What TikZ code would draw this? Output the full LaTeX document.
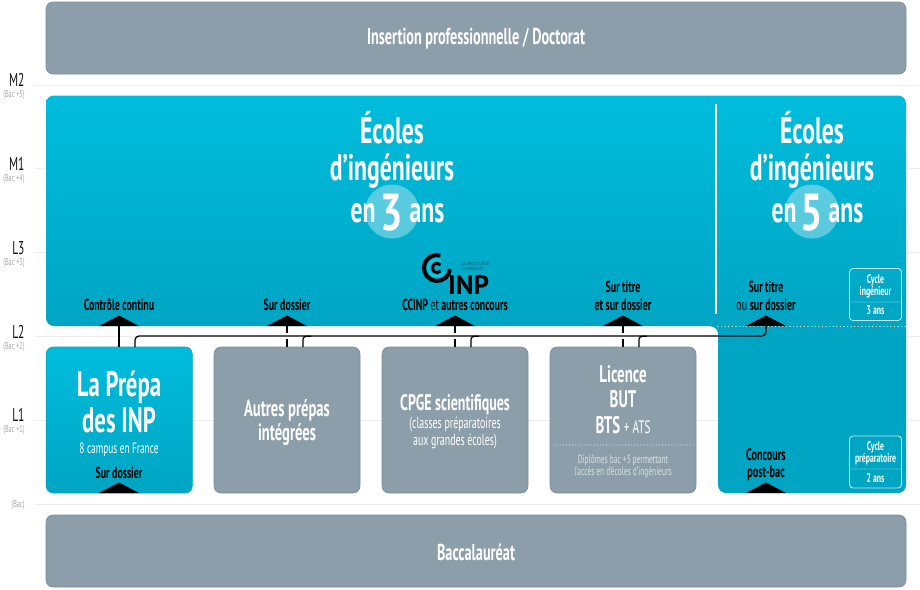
\documentclass[tikz,border=0pt]{standalone}
\usepackage{fontspec}
\setmainfont{Liberation Sans}
\newfontfamily\cf[FakeStretch=0.62]{PT Sans}
\newfontfamily\cfm[FakeStretch=0.64]{PT Sans}
\newfontfamily\cfn[FakeStretch=0.76]{PT Sans}
\newfontfamily\cfw{PT Sans}
\newcommand{\fsz}[1]{\fontsize{#1}{#1}\selectfont\cf}
\newcommand{\fsm}[1]{\fontsize{#1}{#1}\selectfont\cfm\bfseries}
\usetikzlibrary{calc}
\definecolor{cyT}{HTML}{00BCDC}
\definecolor{cyB}{HTML}{00A5C3}
\definecolor{cyL}{HTML}{16C3E2}
\definecolor{gr}{HTML}{8C9EA9}
\definecolor{grE}{HTML}{7C8F9B}
\definecolor{lg}{HTML}{EEEEEE}
\definecolor{lab}{HTML}{111111}
\definecolor{sub}{HTML}{A8A8A8}
\definecolor{pale}{HTML}{D9E1E6}
\definecolor{logoT}{HTML}{0A5A70}
\tikzset{
  x=1pt,y=-1pt,
  every node/.style={inner sep=0pt,outer sep=0pt,align=center},
  graybox/.style={fill=gr,draw=grE,line width=.6pt,rounded corners=7pt,minimum width=146pt,minimum height=146pt},
  widebox/.style={fill=gr,draw=grE,line width=.6pt,rounded corners=7pt,minimum width=860pt,minimum height=72pt},
  cyanbox/.style={top color=cyT,bottom color=cyB,draw=cyB,line width=.6pt,rounded corners=7pt,minimum width=146pt,minimum height=146pt},
  rule/.style={lg,line width=1pt},
  lvl/.style={anchor=base east,text=lab},
  bac/.style={anchor=east,text=sub},
  wtxt/.style={text=white},
  ktxt/.style={text=black},
  ptxt/.style={text=pale},
  conn/.style={black,line width=1.3pt},
  tri/.style={fill=black},
  cycle box/.style={draw=white!75!cyB,line width=.9pt,rounded corners=3.5pt,minimum width=52pt,minimum height=52pt},
  dots/.style={white,line width=1.2pt,line cap=round,dash pattern=on 0pt off 3.6pt},
  ttl/.style={text=white,anchor=base},
}
\begin{document}
\begin{tikzpicture}
\useasboundingbox (0,0) rectangle (920,589);
\fill[white] (0,0) rectangle (920,589);
% level rules
\foreach \yy in {85,168.5,252,336,420,504} \draw[rule] (35,\yy) -- (920,\yy);
% level labels
\node[lvl] (m2) at (24.5,86) {\fsz{18.5}M2};
\node[bac] (b5) at (24.5,95) {\fsz{10}(Bac +5)};
\node[lvl] (m1) at (24.5,170) {\fsz{18.5}M1};
\node[bac] (b4) at (24.5,179) {\fsz{10}(Bac +4)};
\node[lvl] (l3) at (24.5,254) {\fsz{18.5}L3};
\node[bac] (b3) at (24.5,263) {\fsz{10}(Bac +3)};
\node[lvl] (l2) at (24.5,338) {\fsz{18.5}L2};
\node[bac] (b2) at (24.5,347) {\fsz{10}(Bac +2)};
\node[lvl] (l1) at (24.5,421) {\fsz{18.5}L1};
\node[bac] (b1) at (24.5,430) {\fsz{10}(Bac +1)};
\node[bac] (b0) at (24.5,505) {\fsz{10}(Bac)};
% top and bottom
\node[widebox] (top) at (476,38) {};
\node[widebox] (base) at (476,551) {};
\node[wtxt] (toptxt) at (476,39) {\fsz{23}\bfseries Insertion professionnelle / Doctorat};
\node[wtxt] (basetxt) at (476,552) {\fsz{23}\bfseries Baccalauréat};
% main cyan shape
\begin{scope}
\clip[rounded corners=8pt] (46,95.5) -- (906,95.5) -- (906,493) -- (718,493) -- (718,326) -- (46,326) -- cycle;
\shade[top color=cyT,bottom color=cyB] (40,95) rectangle (912,326.5);
\fill[cyB] (710,326) rectangle (912,494);
\end{scope}
% divider and dotted line
\draw[white,line width=2.4pt] (716,104) -- (716,314);
\draw[dots] (718,326.5) -- (906,326.5);
% circles
\fill[white,opacity=.35] (392,211.5) circle[radius=27pt];
\fill[white,opacity=.35] (812,211.5) circle[radius=27pt];
% titles
\node[ttl] (t1a) at (392,143.5) {\fsm{37}Écoles};
\node[ttl] (t1b) at (392,180.5) {\fsm{37}d’ingénieurs};
\node[ttl] (t1c) at (363,222.5) {\fsm{37}en};
\node[ttl] (t1d) at (392,230) {\fontsize{52}{52}\selectfont\cfn\bfseries 3};
\node[ttl] (t1e) at (427,222.5) {\fsm{37}ans};
\node[ttl] (t2a) at (812,143.5) {\fsm{37}Écoles};
\node[ttl] (t2b) at (812,180.5) {\fsm{37}d’ingénieurs};
\node[ttl] (t2c) at (784,222.5) {\fsm{37}en};
\node[ttl] (t2d) at (812,230) {\fontsize{52}{52}\selectfont\cfn\bfseries 5};
\node[ttl] (t2e) at (846,222.5) {\fsm{37}ans};
% logo
\draw[black,line width=4pt] (437,268) ++(-5:13pt) arc[start angle=-5,end angle=-285,radius=13pt];
\draw[cyL,line width=2.6pt] (437,268) ++(-25:8.4pt) arc[start angle=-25,end angle=-300,radius=8.4pt];
\draw[black,line width=2.8pt] (437,268) ++(-40:4.6pt) arc[start angle=-40,end angle=-320,radius=4.6pt];
\node[anchor=base,text=black] (logoinp) at (468.5,294) {\fontsize{27}{27}\selectfont\cfw\bfseries INP};
\node[anchor=west,text=logoT] (logot1) at (461,264) {\fontsize{4.8}{4.8}\selectfont CONCOURS};
\node[anchor=west,text=logoT] (logot2) at (461,269) {\fontsize{4.8}{4.8}\selectfont COMMUN};
% boxes
\node[cyanbox] (prepa) at (119.25,420) {};
\node[graybox] (autres) at (287,420) {};
\node[graybox] (cpge) at (455,420) {};
\node[graybox] (lic) at (623,420) {};
% box texts
\node[wtxt] (p1) at (119,387) {\fsm{35.5}La Prépa};
\node[wtxt] (p2) at (119,420) {\fsm{35.5}des INP};
\node[wtxt] (p3) at (119,449.5) {\fsz{15}8 campus en France};
\node[ktxt] (p4) at (119,473) {\fsz{16}\bfseries Sur dossier};
\node[wtxt] (a1) at (287,410) {\fsz{23.5}\bfseries Autres prépas};
\node[wtxt] (a2) at (287,435) {\fsz{23.5}\bfseries intégrées};
\node[wtxt] (c1) at (455,405) {\fsz{22.5}\bfseries CPGE scientifiques};
\node[wtxt] (c2) at (455,424) {\fsz{16}(classes préparatoires};
\node[wtxt] (c3) at (455,441) {\fsz{16}aux grandes écoles)};
\node[wtxt] (l1a) at (623,374) {\fsz{24}\bfseries Licence};
\node[wtxt] (l1b) at (623,399) {\fsz{24}\bfseries BUT};
\node[wtxt] (l1c) at (623,425) {\fsz{24}\bfseries BTS {\mdseries\fsz{18}+ ATS}};
\draw[dots,line width=1pt,dash pattern=on 0pt off 3.1pt] (554,445) -- (692,445);
\node[ptxt] (l1d) at (623,460) {\fsz{12}Diplômes bac +3 permettant};
\node[ptxt] (l1e) at (623,472.5) {\fsz{12}l’accès en d’écoles d’ingénieurs};
% entry labels
\node[ktxt] (e1) at (119,305) {\fsz{16}\bfseries Contrôle continu};
\node[ktxt] (e2) at (287,305) {\fsz{16}\bfseries Sur dossier};
\node[ktxt] (e3) at (455,305) {\fsz{16}\bfseries CCINP {\mdseries et} autres concours};
\node[ktxt] (e4) at (623,287) {\fsz{16}\bfseries Sur titre};
\node[ktxt] (e5) at (623,305) {\fsz{16}\bfseries et sur dossier};
\node[ktxt] (e6) at (766,287) {\fsz{16}\bfseries Sur titre};
\node[ktxt] (e7) at (766,305) {\fsz{16}{ou} \bfseries sur dossier};
\node[ktxt] (e8) at (766,455) {\fsz{16.5}\bfseries Concours};
\node[ktxt] (e9) at (766,473) {\fsz{16.5}\bfseries post-bac};
% cycle boxes
\node[cycle box] (cy1) at (875.5,294.5) {};
\draw[dots,line width=.7pt,dash pattern=on 0pt off 1.6pt] (849.5,302) -- (901.5,302);
\node[wtxt] (cy1a) at (875.5,280.5) {\fsz{12.5}\bfseries Cycle};
\node[wtxt] (cy1b) at (875.5,292.5) {\fsz{12.5}\bfseries ingénieur};
\node[wtxt] (cy1c) at (875.5,310.5) {\fsz{12.5}\bfseries 3 ans};
\node[cycle box] (cy2) at (875.5,462) {};
\draw[dots,line width=.7pt,dash pattern=on 0pt off 1.6pt] (849.5,469) -- (901.5,469);
\node[wtxt] (cy2a) at (875.5,447) {\fsz{12.5}\bfseries Cycle};
\node[wtxt] (cy2b) at (875.5,459.5) {\fsz{12.5}\bfseries préparatoire};
\node[wtxt] (cy2c) at (875.5,478) {\fsz{12.5}\bfseries 2 ans};
% arrowheads
\foreach \nm/\xx/\yy in {a1/119/326,a2/287/326,a3/455/326,a4/623/326,a5/766/326,a6/119/493,a7/766/493}{
  \fill[tri] (\xx-20,\yy) -- (\xx,\yy-10.5) -- (\xx+20,\yy) -- cycle;
  \coordinate (\nm) at (\xx,\yy);
}
% connectors
\coordinate (bs) at (135,347);
\coordinate (bk) at (700,336);
\coordinate (bk0) at (135,336);
\draw[conn] (a1) -- (a1 |- prepa.north);
\draw[conn] (a2) -- (a2 |- autres.north);
\draw[conn] (a3) -- (a3 |- cpge.north);
\draw[conn] (a4) -- (a4 |- lic.north);
\draw[white,line width=6pt] (bk0) -- (bk);
\draw[conn,rounded corners=4pt] (bs) -- (bk0) -- (a5 |- bk0) -- (a5);
\foreach \xx/\bx in {303/autres,471/cpge,639/lic}{
  \coordinate (j) at (\xx,347);
  \draw[conn,rounded corners=3pt] (j) -- (\xx,336.3) -- (\xx+8,336.3);
}
\end{tikzpicture}
\end{document}
